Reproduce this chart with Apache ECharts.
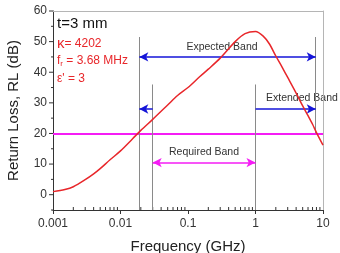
<!DOCTYPE html>
<html>
<head>
<meta charset="utf-8">
<script src="https://cdn.jsdelivr.net/npm/echarts@6/dist/echarts.min.js"></script>
<style>
html, body { margin: 0; padding: 0; background: #fff; }
#chart { width: 340px; height: 253px; }
</style>
</head>
<body>
<div id="chart"></div>
<script>
// return loss curve (frequency GHz, RL dB)
var freq = [0.001, 0.0015, 0.002, 0.003, 0.004, 0.005, 0.007, 0.01, 0.015, 0.02, 0.03, 0.05, 0.07, 0.1, 0.15, 0.2, 0.3, 0.5, 0.7, 1.0, 1.3, 1.6, 2.0, 2.5, 3, 4, 5, 6, 7, 8, 10];
var rl   = [1.0, 1.7, 2.6, 4.9, 6.8, 8.5, 11.4, 14.3, 18.2, 21.0, 24.6, 29.3, 32.4, 35.0, 38.6, 41.0, 44.6, 50.0, 52.6, 53.3, 51.8, 49.3, 45.3, 41.5, 38.3, 33.2, 29.0, 25.8, 23.0, 20.3, 16.2];

var xTickLabels = ['0.001', '0.01', '0.1', '1', '10'];
var xMinor = [0.002, 0.003, 0.004, 0.005, 0.006, 0.007, 0.008, 0.009,
              0.02, 0.03, 0.04, 0.05, 0.06, 0.07, 0.08, 0.09,
              0.2, 0.3, 0.4, 0.5, 0.6, 0.7, 0.8, 0.9,
              2, 3, 4, 5, 6, 7, 8, 9];
var yMajor = [0, 10, 20, 30, 40, 50, 60];
var yMinor = [-5, 5, 15, 25, 35, 45, 55];

// band markers
var fExpLow = 0.019, fReqLow = 0.03, fReqHigh = 1, fExpHigh = 7.8;
var rlLimit = 20;
var yExpected = 45, yExtended = 28, yRequired = 10.5;

var font = 'Liberation Sans, Arial, sans-serif';
var red = '#e8262a', blue = '#1515d8', magenta = '#f51cf5', grey = '#8a8a8a';

var myChart = echarts.init(document.getElementById('chart'));

function vline(x, y0, y1) {
    return [{ coord: [x, y0] }, { coord: [x, y1], lineStyle: { color: grey, width: 1, type: 'solid' } }];
}
function arrow(x0, x1, y, color, startArrow, endArrow) {
    return [
        { coord: [x0, y], symbol: startArrow ? 'arrow' : 'none', symbolSize: [7, 9] },
        { coord: [x1, y], symbol: endArrow ? 'arrow' : 'none', symbolSize: [7, 9], lineStyle: { color: color, width: 1.5, type: 'solid' } }
    ];
}

myChart.setOption({
    animation: false,
    grid: { left: 53, top: 11, right: 17, bottom: 43, containLabel: false, outerBoundsMode: 'none' },
    xAxis: [{
        type: 'log', logBase: 10, min: 0.001, max: 10,
        name: 'Frequency (GHz)', nameLocation: 'middle', nameGap: 29,
        nameTextStyle: { fontFamily: font, fontSize: 15, color: '#222' },
        axisLine: { show: true, onZero: false, lineStyle: { color: '#333', width: 1 } },
        axisTick: { length: 4, lineStyle: { color: '#333' } },
        axisLabel: {
            fontFamily: font, fontSize: 12, color: '#333', margin: 8,
            formatter: function (v, i) { return xTickLabels[i] || ''; }
        },
        splitLine: { show: false }
    }, {
        // frame on top
        type: 'log', logBase: 10, min: 0.001, max: 10, position: 'top',
        axisLine: { show: true, onZero: false, lineStyle: { color: '#b5b5b5' } },
        axisTick: { show: false }, axisLabel: { show: false }, splitLine: { show: false }
    }],
    yAxis: [{
        type: 'value', min: -5, max: 60, interval: 5,
        name: 'Return Loss, RL (dB)', nameLocation: 'middle', nameGap: 32,
        nameTextStyle: { fontFamily: font, fontSize: 15, color: '#222' },
        axisLine: { show: true, onZero: false, lineStyle: { color: '#333' } },
        axisTick: { show: false },
        axisLabel: {
            fontFamily: font, fontSize: 12, color: '#333', margin: 6,
            formatter: function (v) { return yMajor.indexOf(v) >= 0 ? String(v) : ''; }
        },
        splitLine: { show: false }
    }, {
        // frame on the right
        type: 'value', min: -5, max: 60, interval: 5, position: 'right',
        axisLine: { show: true, onZero: false, lineStyle: { color: '#b5b5b5' } },
        axisTick: { show: false }, axisLabel: { show: false }, splitLine: { show: false }
    }],
    graphic: [
        { type: 'text', x: 57, y: 24, z: 100, style: { text: 't=3 mm', fontFamily: font, fontSize: 15, fill: '#111', verticalAlign: 'middle' } },
        { type: 'text', x: 57, y: 44, z: 100, style: {
            text: '{k|κ}= 4202', fontFamily: font, fontSize: 12, fill: red, verticalAlign: 'middle',
            rich: { k: { fontFamily: font, fontSize: 15, fill: red } } } },
        { type: 'text', x: 57, y: 61, z: 100, style: {
            text: 'f{s|r} = 3.68 MHz', fontFamily: font, fontSize: 12, fill: red, verticalAlign: 'middle',
            rich: { s: { fontFamily: font, fontSize: 8, fill: red, padding: [6, 0, 0, 0] } } } },
        { type: 'text', x: 57, y: 79, z: 100, style: { text: "ε' = 3", fontFamily: font, fontSize: 12, fill: red, verticalAlign: 'middle' } },
        { type: 'text', x: 222, y: 47, style: { text: 'Expected Band', fontFamily: font, fontSize: 10.5, fill: '#333', align: 'center', verticalAlign: 'middle' } },
        { type: 'text', x: 266, y: 98, style: { text: 'Extended Band', fontFamily: font, fontSize: 10.5, fill: '#333', align: 'left', verticalAlign: 'middle' } },
        { type: 'text', x: 204, y: 152, style: { text: 'Required Band', fontFamily: font, fontSize: 10.5, fill: '#333', align: 'center', verticalAlign: 'middle' } }
    ],
    series: [
        {
            name: 'RL',
            type: 'line',
            data: freq.map(function (f, i) { return [f, rl[i]]; }),
            smooth: 0.3,
            showSymbol: false,
            lineStyle: { color: red, width: 1.5 },
            z: 5,
            markLine: {
                silent: true,
                animation: false,
                symbol: ['none', 'none'],
                label: { show: false },
                data: [
                    { yAxis: rlLimit, lineStyle: { color: magenta, width: 1.8, type: 'solid' } },
                    vline(fExpLow, -5, 51.5),
                    vline(fReqLow, -5, 36),
                    vline(fReqHigh, -5, 36),
                    vline(fExpHigh, rlLimit, 51.5),
                    arrow(fExpLow, fExpHigh, yExpected, blue, true, true),
                    arrow(fReqLow, fExpLow, yExtended, blue, false, true),
                    arrow(fReqHigh, fExpHigh, yExtended, blue, false, true),
                    arrow(fReqLow, fReqHigh, yRequired, magenta, true, true)
                ]
            }
        },
        {
            // minor ticks on the log axis
            type: 'custom',
            silent: true,
            data: xMinor.map(function (v) { return [v, -5]; }),
            renderItem: function (params, api) {
                var p = api.coord([api.value(0), api.value(1)]);
                return { type: 'line', shape: { x1: p[0], y1: p[1], x2: p[0], y2: p[1] - 3 }, style: { stroke: '#333', lineWidth: 1 } };
            }
        },
        {
            // y ticks, major and minor
            type: 'custom',
            silent: true,
            clip: false,
            data: yMajor.map(function (v) { return [0.001, v, 4]; }).concat(yMinor.map(function (v) { return [0.001, v, 2]; })),
            renderItem: function (params, api) {
                var p = api.coord([api.value(0), api.value(1)]);
                return { type: 'line', shape: { x1: p[0] - api.value(2), y1: p[1], x2: p[0], y2: p[1] }, style: { stroke: '#333', lineWidth: 1 } };
            }
        }
    ]
});
</script>
</body>
</html>
